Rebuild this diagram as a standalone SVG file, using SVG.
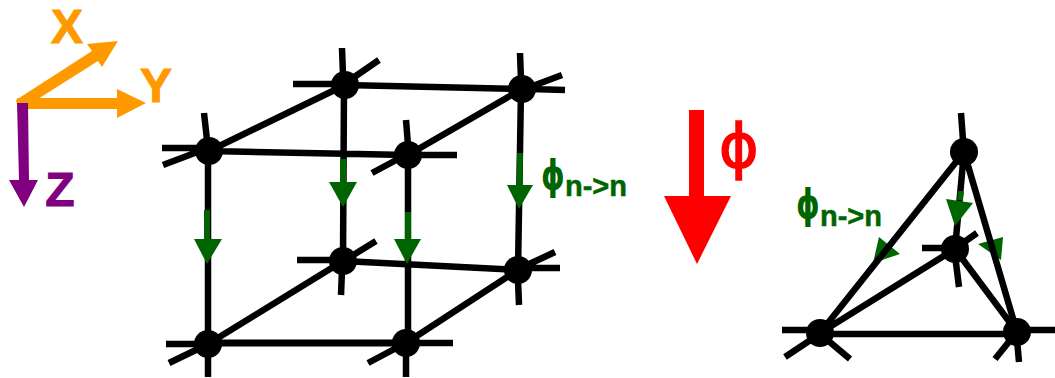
<svg xmlns="http://www.w3.org/2000/svg" width="1055" height="378" viewBox="0 0 1055 378">
<style>
.e{stroke:#000;stroke-width:6.500;fill:none}
.n{fill:#000}
.g{fill:#006400}
.gs{stroke:#006400;stroke-width:6;fill:none}
.o{fill:#ff9900}
.v{fill:#800080}
.r{fill:#ff0000}
.t{font-family:"Liberation Sans",sans-serif;font-weight:bold}
.ax{font-size:48px;stroke-width:1}
.sub{font-size:29px;fill:#006400;stroke:#006400;stroke-width:.5}
.pg{font-family:"DejaVu Sans",sans-serif;font-weight:bold;font-size:40px;fill:#006400}
.pr{font-family:"DejaVu Sans",sans-serif;font-size:60px;fill:#ff0000;stroke:#ff0000;stroke-width:1.500}
</style>
<rect width="1055" height="378" fill="#fff"/>
<g id="connectors">
<path class="e" d="M209 151L345 85M345 85L522 89M522 89L408 155M209 151L408 155M208 151V344M344 85L343 261M521 89L518 270M408 155V343M208 344L343 261M343 261L518 270M406 343L518 270"/>
<path class="e" style="stroke-width:7" d="M208 343H406"/>
<g id="arrow-tetra-hidden">
<path class="g" d="M879 237L900 254L873 263Z"/>
<path class="g" d="M978 244L1003 237L1001 260Z"/>
</g>
<path class="e" d="M964 152L820 333M964 152L955 249M964 152L1017 332M955 249L820 333M955 249L1017 332M820 334H1017"/>
<path class="gs" d="M207 210V240M343 159V183M408 212V240M520 153L519.500 186M961 191L960 200"/>
<path class="g" d="M194 239H222L207 264Z"/>
<path class="g" d="M329 182H357L343 207Z"/>
<path class="g" d="M394 239H421L407 264Z"/>
<path class="g" d="M507 185H533L519 209Z"/>
<path class="g" d="M946 199L973 203L955 226Z"/>
</g>
<g id="axes">
<path class="o" d="M16 100L92 51L87 44L118 41L102 67L98 61L30 104L17 104Z"/>
<path class="o" d="M17 98H117V89L146 103L117 118V109H22Z"/>
<path class="v" d="M17 103H28L29 180H38L24 207L9 180H19Z"/>
<text class="t ax o" x="67" y="43" text-anchor="middle" stroke="#ff9900">X</text>
<text class="t ax o" x="156" y="102" text-anchor="middle" stroke="#ff9900">Y</text>
<text class="t ax v" x="60" y="206" text-anchor="middle" stroke="#800080">Z</text>
</g>
<g id="node-a"><path class="e" d="M204 113L207 140M162 148H200M163 165L200 151"/><circle class="n" cx="209" cy="151" r="14"/></g>
<g id="node-b"><path class="e" d="M342 48L343 75M293 84H335M379 60L350 80"/><circle class="n" cx="345" cy="85" r="14"/></g>
<g id="node-c"><path class="e" d="M520 53L521 80M565 90L530 89M562 75L530 87"/><circle class="n" cx="522" cy="89" r="14"/></g>
<g id="node-d"><path class="e" d="M406 120L408 145M457 155H415M372 173L400 158"/><circle class="n" cx="408" cy="155" r="14"/></g>
<g id="node-e"><path class="e" d="M560 268H525M555 252L525 266M519 305L518 280"/><circle class="n" cx="518" cy="270" r="14"/></g>
<g id="node-f"><path class="e" d="M297 260H335M341 295L342 270M376 241L350 257"/><circle class="n" cx="343" cy="261" r="14"/></g>
<g id="node-g"><path class="e" d="M166 344H200M169 363L200 348M208 377V350"/><circle class="n" cx="208" cy="344" r="14"/></g>
<g id="node-h"><path class="e" d="M453 343H415M368 363L400 346M406 377V350"/><circle class="n" cx="406" cy="343" r="14"/></g>
<g id="node-t1"><path class="e" d="M961 113L963 140"/><circle class="n" cx="964" cy="152" r="14"/></g>
<g id="node-t2"><path class="e" d="M922 248H945M977 233L960 245M959 287L955 255"/><circle class="n" cx="955" cy="249" r="14"/></g>
<g id="node-t3"><path class="e" d="M782 330H810M785 357L815 337M850 359L825 338"/><circle class="n" cx="820" cy="333" r="14"/></g>
<g id="node-t4"><path class="e" d="M1055 330H1025M995 359L1012 338M1019 362L1017 340"/><circle class="n" cx="1017" cy="332" r="14"/></g>
<g id="label-flow-left">
<text class="pg" transform="translate(541 189) scale(.75 1)">ϕ</text>
<text class="t sub" x="565" y="196">n-&gt;n</text>
</g>
<g id="label-flow-right">
<text class="pg" transform="translate(796 218) scale(.75 1)">ϕ</text>
<text class="t sub" x="820" y="226">n-&gt;n</text>
</g>
<g id="flow-arrow">
<path class="r" d="M689 110H704V196H731L697 264L664 196H689Z"/>
<text class="pr" x="719" y="167">ϕ</text>
</g>
</svg>
